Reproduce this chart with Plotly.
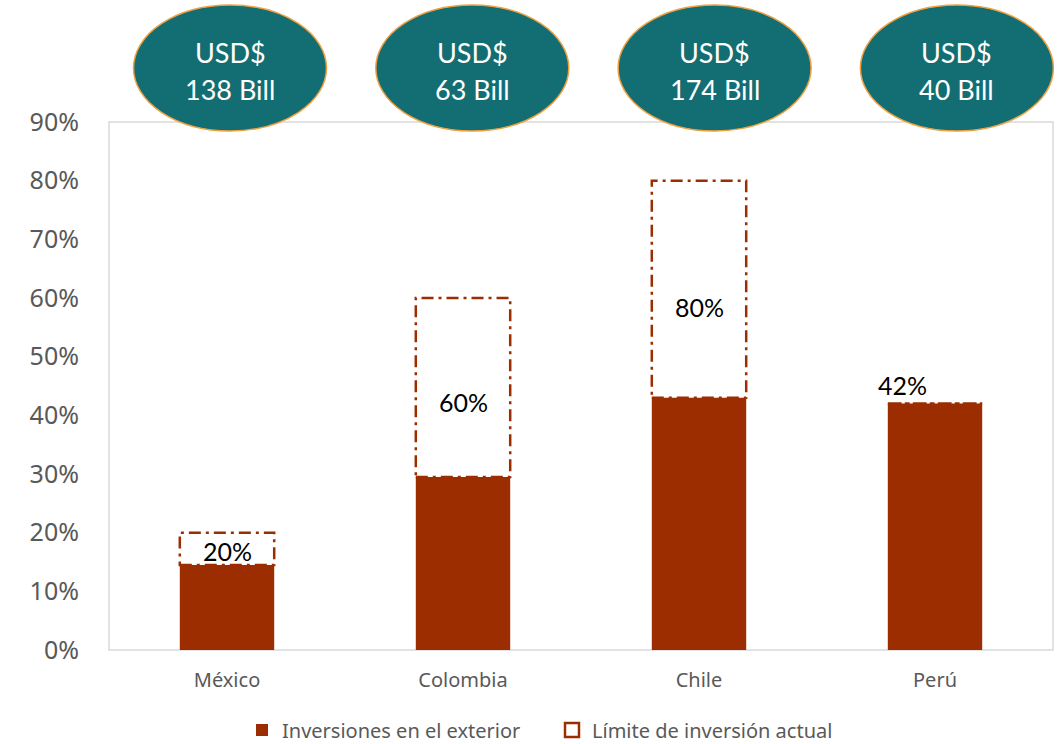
import plotly.graph_objects as go

# Datos
paises = ["México", "Colombia", "Chile", "Perú"]
inversion_exterior = [0.145, 0.295, 0.43, 0.42]      # Inversiones en el exterior
limite_actual = [0.20, 0.60, 0.80, 0.42]             # Límite de inversión actual
activos_usd = ["138 Bill", "63 Bill", "174 Bill", "40 Bill"]
etiquetas_limite = ["20%", "60%", "80%", "42%"]

BROWN = "#9B2D00"
TEAL = "#136E73"
GRAY = "#595959"
W, H = 1058, 744
ML, MR, MT, MB = 109, 5, 122, 94
PW, PH = W - ML - MR, H - MT - MB
BAR_W = 0.4

idx = list(range(len(paises)))

fig = go.Figure()

fig.add_trace(go.Bar(
    x=idx, y=inversion_exterior, width=BAR_W,
    marker=dict(color=BROWN, line=dict(width=0)),
    name="Inversiones en el exterior",
    hoverinfo="skip",
))

# legend entry for the dashed limit boxes
fig.add_trace(go.Scatter(
    x=[None], y=[None], mode="markers",
    marker=dict(symbol="square-open", size=14, color=BROWN, line=dict(width=2.5, color=BROWN)),
    name="Límite de inversión actual",
))

shapes = []
annotations = []

# plot area frame
shapes.append(dict(type="rect", xref="paper", yref="paper", x0=0, x1=1, y0=0, y1=1,
                   line=dict(color="#D9D9D9", width=1.5), layer="below"))

for i, (base, lim, lab) in enumerate(zip(inversion_exterior, limite_actual, etiquetas_limite)):
    shapes.append(dict(
        type="rect", xref="x", yref="y",
        x0=i - BAR_W / 2, x1=i + BAR_W / 2, y0=base, y1=lim,
        line=dict(color=BROWN, width=2.5, dash="12px,5px,3px,5px"),
        layer="above",
    ))
    if lim - base > 0.01:
        annotations.append(dict(
            x=i, y=base + 0.42 * (lim - base), xref="x", yref="y",
            xanchor="center", yanchor="middle",
            text=lab, showarrow=False,
            font=dict(family="Lato", size=25, color="black"),
        ))
    else:
        annotations.append(dict(
            x=i, y=lim, xref="x", yref="y", xanchor="center", yanchor="bottom",
            text=lab, showarrow=False, xshift=-33, yshift=2,
            font=dict(family="Lato", size=25, color="black"),
        ))

# USD ovals above each country
ell_w, ell_h = 193, 126
ell_top = 5
for i, monto in enumerate(activos_usd):
    cx = 230 + i * 242.3
    x0 = (cx - ell_w / 2 - ML) / PW
    x1 = (cx + ell_w / 2 - ML) / PW
    y1 = (H - MB - ell_top) / PH
    y0 = (H - MB - ell_top - ell_h) / PH
    shapes.append(dict(type="circle", xref="paper", yref="paper",
                       x0=x0, x1=x1, y0=y0, y1=y1,
                       fillcolor=TEAL, line=dict(color="#F0A040", width=1.5), layer="above"))
    xc = (cx - ML) / PW
    for txt, py in (("USD$", 52), (monto, 89)):
        annotations.append(dict(
            x=xc, y=(H - MB - py) / PH, xref="paper", yref="paper",
            xanchor="center", yanchor="middle",
            text=txt, showarrow=False,
            font=dict(family="Lato", size=27, color="white"),
        ))

fig.update_layout(
    width=W, height=H,
    margin=dict(l=ML, r=MR, t=MT, b=MB, autoexpand=False),
    paper_bgcolor="white", plot_bgcolor="white",
    showlegend=True,
    legend=dict(orientation="h", x=(242 - ML) / PW, xanchor="left",
                y=(H - MB - 730) / PH, yanchor="middle",
                font=dict(family="Noto Sans", size=20, color=GRAY),
                itemwidth=30, entrywidth=265, entrywidthmode="pixels",
                traceorder="normal"),
    shapes=shapes,
    annotations=annotations,
    xaxis=dict(range=[-0.5, 3.5], tickvals=idx, ticktext=paises, showgrid=False,
               zeroline=False, showline=False, ticks="",
               tickfont=dict(family="Noto Sans", size=20, color=GRAY),
               ticklabelstandoff=16, fixedrange=True),
    yaxis=dict(range=[0, 0.9], dtick=0.1, tickformat=".0%", showgrid=False,
               zeroline=False, showline=False, ticks="",
               tickfont=dict(family="Noto Sans", size=25, color=GRAY),
               ticklabelstandoff=29, fixedrange=True),
)

fig.write_html("out.html")
